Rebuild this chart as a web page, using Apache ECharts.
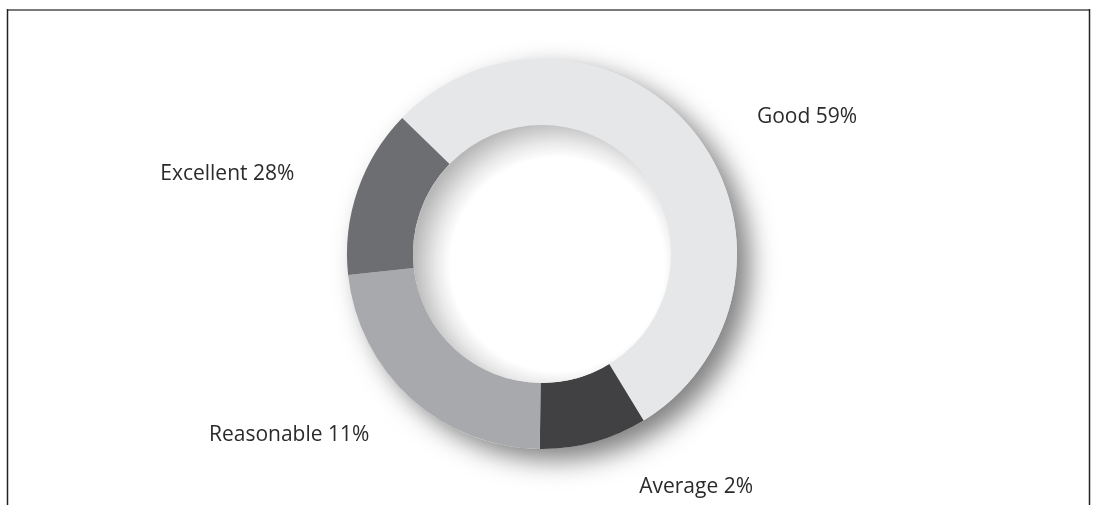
<!DOCTYPE html>
<html>
<head>
<meta charset="utf-8">
<script src="https://cdn.jsdelivr.net/npm/echarts@6/dist/echarts.min.js"></script>
<style>
html,body{margin:0;padding:0;background:#fff;}
#chart{width:1093px;height:505px;}
</style>
</head>
<body>
<div id="chart"></div>
<script>
// Categories in clockwise drawing order (starting at upper-left, going clockwise)
var categories = ['Good', 'Average', 'Reasonable', 'Excellent'];
// Slice sizes as drawn in the picture (share of the ring, in %)
var sliceValues = [54.0, 8.9, 23.1, 14.0];
// Percentages printed on the labels
var labelPercents = [59, 2, 11, 28];
var sliceColors = ['#e6e7e8', '#414042', '#a7a9ac', '#6d6e71'];
// label leader geometry (line hidden) per slice
var labelLen1 = [25, 47, 50, 50];
var labelLen2 = [38, 28, 3, 11];

var center = [542, 254];
var rInner = 129, rOuter = 195;

var chart = echarts.init(document.getElementById('chart'), null, {renderer: 'canvas'});

var data = categories.map(function (c, i) {
  return {
    name: c,
    value: sliceValues[i],
    itemStyle: {color: sliceColors[i]},
    labelLine: {show: false, length: labelLen1[i], length2: labelLen2[i]}
  };
});

var option = {
  animation: false,
  backgroundColor: '#ffffff',
  graphic: [
    {type: 'line', shape: {x1: 7, y1: 10, x2: 1090, y2: 10}, style: {stroke: '#7a7a7a', lineWidth: 2}},
    {type: 'line', shape: {x1: 7.5, y1: 9, x2: 7.5, y2: 505}, style: {stroke: '#222', lineWidth: 1.5}},
    {type: 'line', shape: {x1: 1089.5, y1: 9, x2: 1089.5, y2: 505}, style: {stroke: '#222', lineWidth: 1.5}}
  ],
  series: [
    {
      // shadow-casting base ring
      type: 'pie',
      silent: true,
      z: 1,
      center: center,
      radius: [0, rOuter],
      label: {show: false},
      labelLine: {show: false},
      itemStyle: {
        color: '#e6e7e8',
        shadowColor: 'rgba(0,0,0,0.5)',
        shadowBlur: 26,
        shadowOffsetX: 13,
        shadowOffsetY: 11
      },
      data: [{value: 1}]
    },
    {
      type: 'pie',
      z: 2,
      center: center,
      radius: [rInner, rOuter],
      startAngle: 135.8,
      clockwise: true,
      avoidLabelOverlap: false,
      itemStyle: {borderWidth: 0},
      emphasis: {disabled: true},
      label: {
        show: true,
        position: 'outside',
        alignTo: 'none',
        distanceToLabelLine: 5,
        fontFamily: 'Open Sans',
        fontSize: 21,
        color: '#2b2b2b',
        formatter: function (p) {
          return p.name + ' ' + labelPercents[p.dataIndex] + '%';
        }
      },
      data: data
    },
    {
      // inner hole with bevel-like gradient
      type: 'pie',
      silent: true,
      z: 3,
      center: center,
      radius: [0, rInner],
      label: {show: false},
      labelLine: {show: false},
      itemStyle: {
        color: {
          type: 'radial', x: 0.56, y: 0.54, r: 0.56,
          colorStops: [
            {offset: 0, color: '#ffffff'},
            {offset: 0.74, color: '#ffffff'},
            {offset: 0.84, color: '#e9e9e9'},
            {offset: 1, color: '#b9b9b9'}
          ]
        }
      },
      data: [{value: 1}]
    }
  ]
};
chart.setOption(option);
</script>
</body>
</html>
